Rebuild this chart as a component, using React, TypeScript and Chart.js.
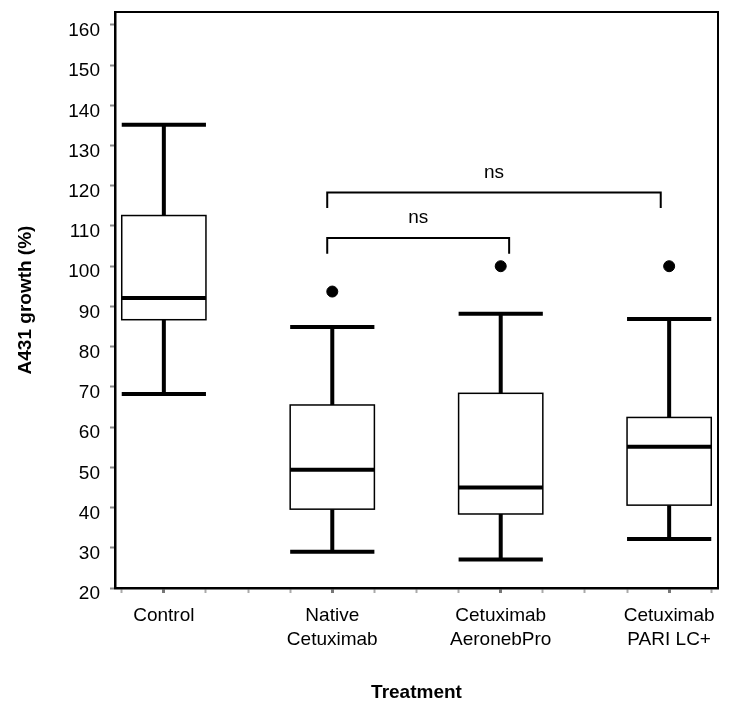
import React, { useEffect, useRef } from "react";
import { Chart, registerables } from "chart.js";

Chart.register(...registerables);

const CATEGORIES: string[][] = [
  ["Control"],
  ["Native", "Cetuximab"],
  ["Cetuximab", "AeronebPro"],
  ["Cetuximab", "PARI LC+"],
];
const WHISKER_LOW = [68.2, 29.0, 27.1, 32.2];
const Q1 = [86.7, 39.6, 38.4, 40.6];
const MEDIAN = [92.1, 49.4, 45.0, 55.1];
const Q3 = [112.6, 65.5, 68.4, 62.4];
const WHISKER_HIGH = [135.2, 84.9, 88.2, 86.9];

const OUTLIER_GROUP = [1, 2, 3];
const OUTLIER_VALUE = [93.7, 100, 100];

const Y_TICKS = [20, 30, 40, 50, 60, 70, 80, 90, 100, 110, 120, 130, 140, 150, 160];
const X_TICKS = [-0.25, 0, 0.25, 0.5, 0.75, 1, 1.25, 1.5, 1.75, 2, 2.25, 2.5, 2.75, 3, 3.25];

const BRACKET_START = [0.97, 0.97];
const BRACKET_END = [2.05, 2.95];
const BRACKET_TOP = [107, 118.3];
const BRACKET_FOOT = [103.1, 114.5];
const BRACKET_TEXT = ["ns", "ns"];
const BRACKET_TEXT_Y = [112, 123.2];

const FONT = "'Liberation Sans', Arial, sans-serif";
const BOX_HALF = 0.25;

const boxPlugin = {
  id: "boxPlot",
  beforeDatasetsDraw(chart: any) {
    const { ctx, scales } = chart;
    const xs = scales.x;
    const ys = scales.y;
    ctx.save();
    for (let i = 0; i < MEDIAN.length; i++) {
      const xc = xs.getPixelForValue(i);
      const xl = xs.getPixelForValue(i - BOX_HALF);
      const xr = xs.getPixelForValue(i + BOX_HALF);
      const yLo = ys.getPixelForValue(WHISKER_LOW[i]);
      const yQ1 = ys.getPixelForValue(Q1[i]);
      const yMed = ys.getPixelForValue(MEDIAN[i]);
      const yQ3 = ys.getPixelForValue(Q3[i]);
      const yHi = ys.getPixelForValue(WHISKER_HIGH[i]);
      ctx.strokeStyle = "#000";
      ctx.lineWidth = 4;
      ctx.lineCap = "butt";
      ctx.beginPath();
      ctx.moveTo(xc, yQ3);
      ctx.lineTo(xc, yHi);
      ctx.moveTo(xc, yQ1);
      ctx.lineTo(xc, yLo);
      ctx.moveTo(xl, yHi);
      ctx.lineTo(xr, yHi);
      ctx.moveTo(xl, yLo);
      ctx.lineTo(xr, yLo);
      ctx.stroke();
      ctx.fillStyle = "#fff";
      ctx.fillRect(xl, yQ3, xr - xl, yQ1 - yQ3);
      ctx.lineWidth = 1.5;
      ctx.strokeRect(xl, yQ3, xr - xl, yQ1 - yQ3);
      ctx.lineWidth = 4;
      ctx.beginPath();
      ctx.moveTo(xl, yMed);
      ctx.lineTo(xr, yMed);
      ctx.stroke();
    }
    ctx.restore();
  },
  afterDraw(chart: any) {
    const { ctx, scales, chartArea } = chart;
    const xs = scales.x;
    const ys = scales.y;
    ctx.save();
    ctx.strokeStyle = "#000";
    ctx.lineWidth = 2;
    ctx.beginPath();
    ctx.moveTo(chartArea.left, chartArea.top);
    ctx.lineTo(chartArea.right, chartArea.top);
    ctx.lineTo(chartArea.right, chartArea.bottom);
    ctx.stroke();
    ctx.lineWidth = 2;
    ctx.font = `19px ${FONT}`;
    ctx.fillStyle = "#000";
    ctx.textAlign = "center";
    ctx.textBaseline = "middle";
    for (let i = 0; i < BRACKET_START.length; i++) {
      const x1 = xs.getPixelForValue(BRACKET_START[i]);
      const x2 = xs.getPixelForValue(BRACKET_END[i]);
      const yt = ys.getPixelForValue(BRACKET_TOP[i]);
      const yf = ys.getPixelForValue(BRACKET_FOOT[i]);
      ctx.beginPath();
      ctx.moveTo(x1, yf);
      ctx.lineTo(x1, yt);
      ctx.lineTo(x2, yt);
      ctx.lineTo(x2, yf);
      ctx.stroke();
      const xm = xs.getPixelForValue((BRACKET_START[i] + BRACKET_END[i]) / 2);
      ctx.fillText(BRACKET_TEXT[i], xm, ys.getPixelForValue(BRACKET_TEXT_Y[i]));
    }
    ctx.restore();
  },
};

export default function App() {
  const canvasRef = useRef<HTMLCanvasElement | null>(null);

  useEffect(() => {
    if (!canvasRef.current) return;
    Chart.defaults.font.family = FONT;
    const chart = new Chart(canvasRef.current, {
      type: "scatter",
      data: {
        datasets: [
          {
            label: "Outliers",
            data: OUTLIER_GROUP.map((g, i) => ({ x: g, y: OUTLIER_VALUE[i] })),
            backgroundColor: "#000",
            borderColor: "#000",
            pointRadius: 5.5,
            pointHoverRadius: 5.5,
          },
        ],
      },
      options: {
        animation: false,
        responsive: true,
        maintainAspectRatio: false,
        layout: { padding: { top: 12, right: 11, left: 0, bottom: 0 } },
        plugins: {
          legend: { display: false },
          tooltip: { enabled: false },
        },
        scales: {
          x: {
            type: "linear",
            min: -0.29,
            max: 3.29,
            afterBuildTicks: (scale: any) => {
              scale.ticks = X_TICKS.map((v) => ({ value: v }));
            },
            afterFit: (scale: any) => {
              scale.height = 114;
              scale.paddingLeft = 0;
              scale.paddingRight = 0;
            },
            grid: {
              drawOnChartArea: false,
              drawTicks: true,
              tickLength: 5,
              tickColor: (ctx: any) => (Number.isInteger(ctx.tick?.value) ? "#777" : "#aaa"),
              tickWidth: (ctx: any) => (Number.isInteger(ctx.tick?.value) ? 3 : 2),
            },
            border: { display: true, color: "#000", width: 2.5 },
            ticks: {
              autoSkip: false,
              maxRotation: 0,
              minRotation: 0,
              padding: 10,
              color: "#000",
              font: { size: 19, lineHeight: 1.3 },
              callback: (value: any) =>
                Number.isInteger(value) && CATEGORIES[value] ? CATEGORIES[value] : "",
            },
            title: {
              display: true,
              text: "Treatment",
              color: "#000",
              font: { size: 19, weight: "bold", lineHeight: 1 },
              padding: { top: 0, bottom: 0 },
            },
          },
          y: {
            type: "linear",
            min: 20,
            max: 163.2,
            afterBuildTicks: (scale: any) => {
              scale.ticks = Y_TICKS.map((v) => ({ value: v }));
            },
            afterFit: (scale: any) => {
              scale.width = 115;
              scale.paddingTop = 0;
              scale.paddingBottom = 0;
            },
            grid: {
              drawOnChartArea: false,
              drawTicks: true,
              tickLength: 5,
              tickColor: "#888",
              tickWidth: 2,
            },
            border: { display: true, color: "#000", width: 2.5 },
            ticks: {
              padding: 10,
              labelOffset: 6,
              color: "#000",
              font: { size: 19 },
              callback: (value: any) => String(value),
            },
            title: {
              display: true,
              text: "A431 growth (%)",
              color: "#000",
              font: { size: 19, weight: "bold", lineHeight: 1.2 },
              padding: { top: 14, bottom: 0 },
            },
          },
        },
      },
      plugins: [boxPlugin],
    });
    return () => chart.destroy();
  }, []);

  return (
    <div style={{ position: "fixed", left: 0, top: 0, width: 729, height: 702, background: "#fff" }}>
      <canvas ref={canvasRef} />
    </div>
  );
}
